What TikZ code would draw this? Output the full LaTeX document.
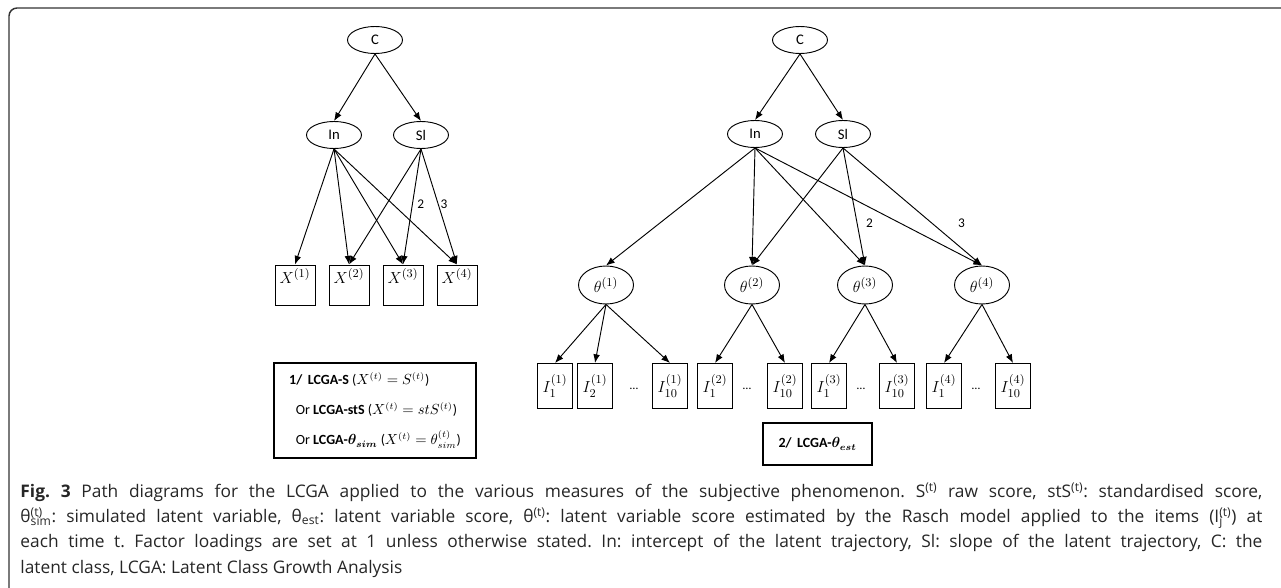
\documentclass[tikz,border=0pt]{standalone}
\usepackage{amsmath,amssymb}
\usepackage[no-math]{fontspec}
\setmainfont{Carlito}
\newfontfamily\capfont{Open Sans}
\usepackage{tikz}
\usetikzlibrary{positioning}
\usetikzlibrary{shapes.geometric,arrows.meta}

\begin{document}
\begin{tikzpicture}[x=0.75pt, y=-0.75pt,
                    -{Latex[length=6.5pt,width=5pt]}, node distance = 40.5pt, on grid,
                    line width = 0.7pt,
                    latent/.style = {ellipse,
                                     draw,
                                     inner sep = 0pt,
                                     minimum width = 41.25pt,
                                     minimum height = 20.25pt,
                                     font = \fontsize{11}{13}\selectfont},
                    factor/.style = {ellipse,
                                     draw,
                                     inner sep = 0pt,
                                     minimum width = 41.25pt,
                                     minimum height = 28.5pt,
                                     font = \fontsize{13}{15}\selectfont},
                    obs/.style    = {rectangle,
                                     draw,
                                     inner sep = 0pt,
                                     minimum width = 30pt,
                                     text height = 13.5pt,
                                     text depth = 16.5pt,
                                     font = \fontsize{13}{15}\selectfont},
                    item/.style   = {rectangle,
                                     draw,
                                     inner sep = 0pt,
                                     minimum width = 26.25pt,
                                     minimum height = 33.75pt,
                                     font = \fontsize{12.5}{14}\selectfont},
                    dots/.style   = {font = \fontsize{9}{11}\selectfont},
                    model/.style  = {rectangle,
                                     draw,
                                     line width = 1.5pt,
                                     font = \fontsize{10.5}{22.5}\selectfont}]

\useasboundingbox (0,0) rectangle (1281,588);
\draw[-, line width = 1.1pt, black!80, rounded corners = 6pt] (1290,8) -- (9,8) -- (9,600);

% left: LCGA on the scores
\node[latent] (C1) at (375,40) {C};
\node[latent] (In1) [below left = 71.25pt and 30.75pt of C1] {In};
\node[latent] (Sl1) [below right = 71.25pt and 34.5pt of C1] {Sl};

\node[obs] (X1) at (295,285) {$X^{(1)}$};
\node[obs] (X2) [right = of X1] {$X^{(2)}$};
\node[obs] (X3) [right = of X2] {$X^{(3)}$};
\node[obs] (X4) [right = of X3] {$X^{(4)}$};

\path (C1.south) edge (In1.north);
\path (C1.south) edge (Sl1.north);

\path (In1.south) edge (X1.north);
\path (In1.south) edge (X2.north);
\path (In1.south) edge (X3.north);
\path (In1.south) edge (X4.north);

\path (Sl1.south) edge (X2.north);
\path (Sl1.south) edge node[right, pos = 0.48] {2} (X3.north);
\path (Sl1.south) edge node[right, pos = 0.48, xshift = -2pt] {3} (X4.north);

\node[model, minimum width = 151.5pt, minimum height = 71.25pt, align = left] (M1) at (375,410.5)
     {\textbf{1/\,\ LCGA-S} ($X^{(t)} = S^{(t)}$)\\
      \hspace{5pt}Or \textbf{LCGA-stS} ($X^{(t)} = stS^{(t)}$)\\
      \hspace{5pt}Or \textbf{LCGA-$\boldsymbol{\theta_{sim}}$} ($X^{(t)} = \theta^{(t)}_{sim}$)};

% right: LCGA on the estimated latent variables
\node[latent] (C2) at (800,40) {C};
\node[latent] (In2) [below left = 70.5pt and 33.75pt of C2] {In};
\node[latent] (Sl2) [below right = 70.5pt and 32.25pt of C2] {Sl};

\node[factor] (T1) at (606,285) {$\theta^{(1)}$};
\node[factor] (T2) at (752,285) {$\theta^{(2)}$};
\node[factor] (T3) at (865,285) {$\theta^{(3)}$};
\node[factor] (T4) at (982,285) {$\theta^{(4)}$};

\path (C2.south) edge (In2.north);
\path (C2.south) edge (Sl2.north);

\path (In2.south) edge (T1.north);
\path (In2.south) edge (T2.north);
\path (In2.south) edge (T3.north);
\path (In2.south) edge (T4.north);

\path (Sl2.south) edge (T2.north);
\path (Sl2.south) edge node[right, pos = 0.64, xshift = 3pt] {2} (T3.north);
\path (Sl2.south) edge node[right, pos = 0.64, xshift = 16pt] {3} (T4.north);

\node[item] (I11) at (555,386) {$I_1^{(1)}$};
\node[item] (I21) at (595,386) {$I_2^{(1)}$};
\node[dots] (D1) at (634,389) {\dots};
\node[item] (I101) at (670,386) {$I_{10}^{(1)}$};

\node[item] (I12) at (715,386) {$I_1^{(2)}$};
\node[dots] (D2) at (747,389) {\dots};
\node[item] (I102) at (785,386) {$I_{10}^{(2)}$};

\node[item] (I13) at (829,386) {$I_1^{(3)}$};
\node[dots] (D3) at (861,389) {\dots};
\node[item] (I103) at (897,386) {$I_{10}^{(3)}$};

\node[item] (I14) at (944,386) {$I_1^{(4)}$};
\node[dots] (D4) at (976,389) {\dots};
\node[item] (I104) at (1013,386) {$I_{10}^{(4)}$};

\path (T1.south) edge (I11.north);
\path (T1.south) edge (I21.north);
\path (T1.south) edge (I101.north);
\path (T2.south) edge (I12.north);
\path (T2.south) edge (I102.north);
\path (T3.south) edge (I13.north);
\path (T3.south) edge (I103.north);
\path (T4.south) edge (I14.north);
\path (T4.south) edge (I104.north);

\node[model, minimum width = 81.75pt, minimum height = 31.5pt] (M2) at (817.5,444)
     {\textbf{2/\,\ LCGA-$\boldsymbol{\theta_{est}}$}};

% caption
\node[anchor = base west, inner sep = 0pt, text width = 931.5pt, align = justify,
      text = black!85, font = \capfont\frenchspacing\fontsize{13}{19}\selectfont] (cap) at (20,497)
     {\textbf{Fig. 3} Path diagrams for the LCGA applied to the various measures of the subjective phenomenon. S\textsuperscript{(t)} raw score, stS\textsuperscript{(t)}: standardised score,\linebreak
      θ\rlap{\textsuperscript{(t)}}\textsubscript{sim}: simulated latent variable, θ\textsubscript{est}: latent variable score, θ\textsuperscript{(t)}: latent variable score estimated by the Rasch model applied to the items (I\rlap{\textsubscript{j}}\textsuperscript{(t)}) at\linebreak
      each time t. Factor loadings are set at 1 unless otherwise stated. In: intercept of the latent trajectory, Sl: slope of the latent trajectory, C: the\linebreak
      latent class, LCGA: Latent Class Growth Analysis};

\end{tikzpicture}
\end{document}
